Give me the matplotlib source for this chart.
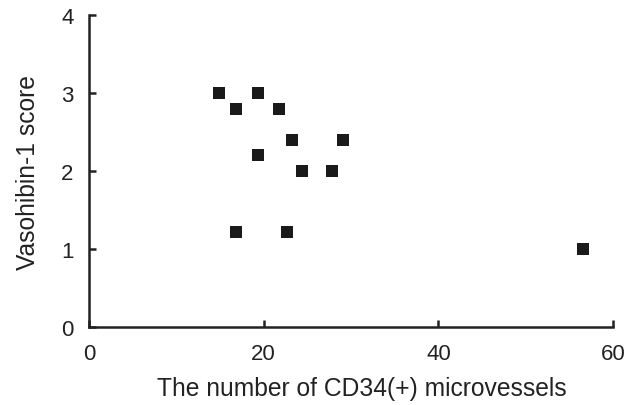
import numpy as np
import matplotlib.pyplot as plt

plt.rcParams['font.family'] = ['Liberation Sans', 'DejaVu Sans']

# CD34(+) microvessel counts and vasohibin-1 scores
microvessels = [14.9, 16.8, 19.4, 21.8, 23.2, 29.1, 19.4, 24.4, 27.8, 16.8, 22.7, 56.6]
vasohibin = [3.0, 2.8, 3.0, 2.8, 2.4, 2.4, 2.21, 2.0, 2.0, 1.22, 1.22, 1.0]
x_ticks = [0, 20, 40, 60]
y_ticks = [0, 1, 2, 3, 4]

fig = plt.figure(figsize=(6.34, 4.06), dpi=100)
ax = fig.add_axes([0.1404, 0.1914, 0.8266, 0.7692])

ax.scatter(microvessels, vasohibin, marker="s", s=72, c="#1a1a1a", linewidths=0, zorder=3)

ax.set_xlim(0, 60)
ax.set_ylim(0, 4)
ax.set_xticks(x_ticks)
ax.set_yticks(y_ticks)

for side in ["top", "right"]:
    ax.spines[side].set_visible(False)
for side in ["left", "bottom"]:
    ax.spines[side].set_linewidth(1.8)
    ax.spines[side].set_color("#222222")

ax.tick_params(direction="in", length=5, width=1.8, color="#222222",
               labelsize=16, pad=11, labelcolor="#222222")

ax.set_xlabel("The number of CD34(+) microvessels", fontsize=17.7, color="#222222",
              labelpad=9, x=0.521)
ax.set_ylabel("Vasohibin-1 score", fontsize=17.7, color="#222222", labelpad=15)

fig.savefig("out.png", dpi=100)
